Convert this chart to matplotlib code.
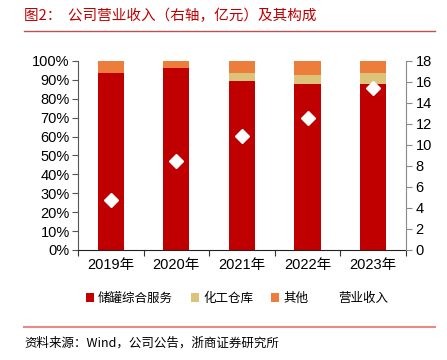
import matplotlib
matplotlib.use("Agg")
import matplotlib.pyplot as plt
import numpy as np

plt.rcParams['font.family'] = ['Noto Sans CJK SC', 'DejaVu Sans']
num_font = ['Liberation Sans', 'Noto Sans CJK SC']

years = ['2019年', '2020年', '2021年', '2022年', '2023年']
storage = [93.5, 96.1, 89.2, 88.0, 88.0]
chem = [0.0, 0.0, 4.6, 4.8, 5.7]
other = [6.5, 3.9, 6.2, 7.2, 6.3]
revenue = [4.8, 8.45, 10.85, 12.6, 15.4]

c_red = '#C00000'
c_yel = '#DDC27A'
c_org = '#ED7D3A'

fig = plt.figure(figsize=(4.47, 3.6), dpi=100)
ax = fig.add_axes([0.1745, 0.3056, 0.7335, 0.525])
x = np.arange(len(years))
w = 0.4
s = np.array(storage)
c = np.array(chem)
ax.bar(x, storage, w, color=c_red, label='储罐综合服务')
ax.bar(x, chem, w, bottom=s, color=c_yel, label='化工仓库')
ax.bar(x, other, w, bottom=s + c, color=c_org, label='其他')
ax.set_xlim(-0.5, 4.5)
ax.set_ylim(0, 100)
ax.set_yticks(range(0, 101, 10))
ax.set_yticklabels([f'{v}%' for v in range(0, 101, 10)], fontsize=10.5, family=num_font)
ax.set_xticks(np.arange(-0.5, 5, 1), minor=False)
ax.set_xticklabels([])
ax.set_xticks(x, minor=True)
ax.set_xticklabels(years, minor=True, fontsize=10.5, family=num_font)
ax.tick_params(axis='x', which='minor', length=0, pad=6)
ax.tick_params(axis='x', which='major', length=4, color='#333333')
ax.tick_params(axis='y', length=4, color='#555555', pad=2)
for sp in ['top', 'right']:
    ax.spines[sp].set_visible(False)
ax.spines['left'].set_color('#555555')
ax.spines['bottom'].set_color('#222222')

ax2 = ax.twinx()
ax2.plot(x, revenue, linestyle='none', marker='D', markersize=7,
         color='white', markeredgecolor='white', label='营业收入')
ax2.set_ylim(0, 18)
ax2.set_yticks(range(0, 19, 2))
ax2.set_yticklabels([str(v) for v in range(0, 19, 2)], fontsize=10.5, family=num_font)
ax2.tick_params(axis='y', length=4, color='#888888', pad=3)
for sp in ['top', 'left', 'bottom']:
    ax2.spines[sp].set_visible(False)
ax2.spines['right'].set_color('#888888')

h1, l1 = ax.get_legend_handles_labels()
h2, l2 = ax2.get_legend_handles_labels()
fig.legend(h1 + h2, l1 + l2, loc='center', bbox_to_anchor=(0.53, 0.172), ncol=4,
           frameon=False, fontsize=9, handlelength=0.7, handleheight=0.7,
           handletextpad=0.3, columnspacing=1.4)

fig.text(0.054, 0.955, '图2：  公司营业收入（右轴，亿元）及其构成', color='#C00000',
         fontsize=10.5, va='center')
fig.add_artist(plt.Line2D([0.054, 0.973], [0.914, 0.914], color='#C0504D', lw=1))
fig.add_artist(plt.Line2D([0.054, 0.973], [0.092, 0.092], color='#E8898A', lw=1.5))
fig.text(0.054, 0.047, '资料来源：Wind，公司公告，浙商证券研究所', fontsize=9, va='center')

fig.savefig('out.png', dpi=100)
